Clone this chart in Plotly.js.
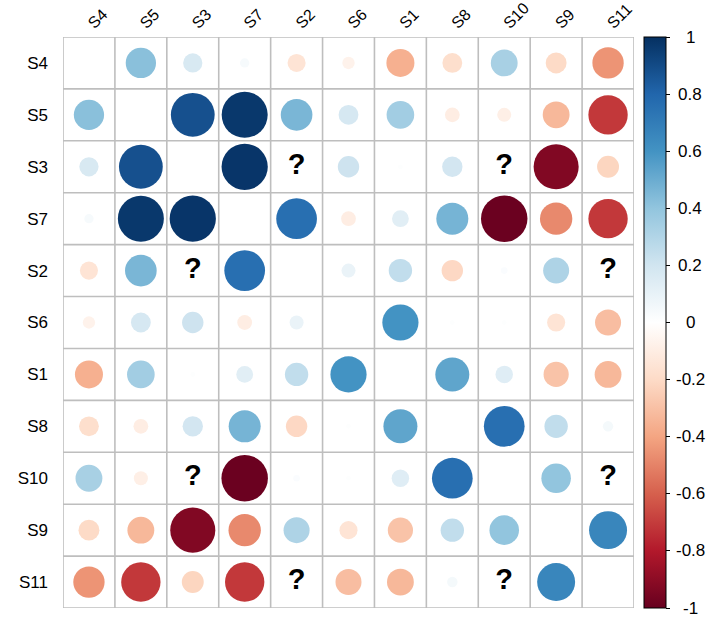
<!DOCTYPE html>
<html>
<head>
<meta charset="utf-8">
<script src="https://cdn.plot.ly/plotly-3.0.1.min.js"></script>
<style>html,body{margin:0;padding:0;background:#fff;}</style>
</head>
<body>
<div id="chart" style="width:711px;height:620px;"></div>
<script>
// Variable order (rows top-to-bottom, columns left-to-right)
const labels = ["S4", "S5", "S3", "S7", "S2", "S6", "S1", "S8", "S10", "S9", "S11"];
const NA = null; // missing correlation, drawn as "?"

// Correlation rows (diagonal = 1, not drawn)
const S4  = [1, 0.42, 0.17, 0.04, -0.15, -0.07, -0.36, -0.18, 0.33, -0.20, -0.45];
const S5  = [0.42, 1, 0.88, 0.97, 0.46, 0.18, 0.35, -0.10, -0.09, -0.33, -0.71];
const S3  = [0.17, 0.88, 1, 0.98, NA, 0.21, 0.01, 0.19, NA, -0.93, -0.22];
const S7  = [0.04, 0.97, 0.98, 1, 0.76, -0.10, 0.13, 0.47, -0.99, -0.48, -0.71];
const S2  = [-0.15, 0.46, NA, 0.76, 1, 0.09, 0.25, -0.21, 0.02, 0.31, NA];
const S6  = [-0.07, 0.18, 0.21, -0.10, 0.09, 1, 0.60, 0.01, 0.01, -0.15, -0.31];
const S1  = [-0.36, 0.35, 0.01, 0.13, 0.25, 0.60, 1, 0.53, 0.14, -0.29, -0.33];
const S8  = [-0.18, -0.10, 0.19, 0.47, -0.21, 0.01, 0.53, 1, 0.76, 0.25, 0.05];
const S10 = [0.33, -0.09, NA, -0.99, 0.02, 0.01, 0.14, 0.76, 1, 0.40, NA];
const S9  = [-0.20, -0.33, -0.93, -0.48, 0.31, -0.15, -0.29, 0.25, 0.40, 1, 0.66];
const S11 = [-0.45, -0.71, -0.22, -0.71, NA, -0.31, -0.33, 0.05, NA, 0.66, 1];

const colorbarTicks = [1, 0.8, 0.6, 0.4, 0.2, 0, -0.2, -0.4, -0.6, -0.8, -1];

const rows = [S4, S5, S3, S7, S2, S6, S1, S8, S10, S9, S11];

const W = 711, H = 620;
const margin = {l: 63, r: 77, t: 37, b: 12};
const n = labels.length;
const cellPx = (H - margin.t - margin.b) / n;

const rdbu = [
  [0.0, "#67001F"], [0.1, "#B2182B"], [0.2, "#D6604D"], [0.3, "#F4A582"],
  [0.4, "#FDDBC7"], [0.5, "#FFFFFF"], [0.6, "#D1E5F0"], [0.7, "#92C5DE"],
  [0.8, "#4393C3"], [0.9, "#2166AC"], [1.0, "#053061"]
];

const cx = [], cy = [], cv = [], cs = [];
const qx = [], qy = [];
rows.forEach((row, i) => {
  row.forEach((v, j) => {
    if (i === j) return;
    if (v === null) { qx.push(j); qy.push(i); return; }
    cx.push(j); cy.push(i); cv.push(v);
    cs.push(0.9 * Math.sqrt(Math.abs(v)) * cellPx);
  });
});

const circles = {
  type: "scatter", mode: "markers", x: cx, y: cy,
  hoverinfo: "skip",
  marker: {
    size: cs, sizemode: "diameter", color: cv, opacity: 1,
    colorscale: rdbu, cmin: -1, cmax: 1,
    line: {width: 0},
    showscale: true,
    colorbar: {
      x: (644 - margin.l) / (W - margin.l - margin.r), xanchor: "left",
      y: 0.5, yanchor: "middle", len: 1, lenmode: "fraction",
      thickness: 21.5, thicknessmode: "pixels",
      xpad: 0, ypad: 0,
      outlinecolor: "#000", outlinewidth: 1,
      ticks: "outside", ticklen: 4, tickcolor: "#000", tickwidth: 1,
      tickmode: "array", tickvals: colorbarTicks,
      showticklabels: false
    }
  },
  showlegend: false
};

const qmarks = {
  type: "scatter", mode: "text", x: qx, y: qy,
  text: qx.map(() => "?"),
  textposition: "middle center",
  textfont: {family: "Liberation Sans, Arial, sans-serif", size: 29, color: "#000", weight: "bold"},
  hoverinfo: "skip", showlegend: false
};

const shapes = [];
for (let k = 0; k <= n; k++) {
  shapes.push({type: "line", xref: "x", yref: "y", x0: k - 0.5, x1: k - 0.5, y0: -0.5, y1: n - 0.5,
    line: {color: "#BEBEBE", width: 1.6}, layer: "below"});
  shapes.push({type: "line", xref: "x", yref: "y", y0: k - 0.5, y1: k - 0.5, x0: -0.5, x1: n - 0.5,
    line: {color: "#BEBEBE", width: 1.6}, layer: "below"});
}

const plotW = W - margin.l - margin.r;
const annotations = colorbarTicks.map(v => ({
  xref: "paper", yref: "paper", x: (690 - margin.l) / plotW, y: (v + 1) / 2,
  xanchor: "center", yanchor: "middle", showarrow: false,
  text: String(v), font: {family: "Liberation Sans, Arial, sans-serif", size: 17, color: "#000"}
}));

const font = {family: "Liberation Sans, Arial, sans-serif", size: 17, color: "#000"};
const xfont = {family: "Liberation Sans, Arial, sans-serif", size: 16, color: "#000"};

const layout = {
  width: W, height: H, margin: margin,
  paper_bgcolor: "#fff", plot_bgcolor: "#fff",
  font: font,
  xaxis: {
    range: [-0.5, n - 0.5], side: "top", tickmode: "array",
    tickvals: labels.map((_, i) => i), ticktext: labels, tickangle: -45,
    showgrid: false, zeroline: false, showline: false, ticks: "",
    ticklabelstandoff: 1, tickfont: xfont, fixedrange: true
  },
  yaxis: {
    range: [n - 0.5, -0.5], tickmode: "array",
    tickvals: labels.map((_, i) => i), ticktext: labels,
    showgrid: false, zeroline: false, showline: false, ticks: "",
    ticklabelstandoff: 14, tickfont: font, fixedrange: true
  },
  shapes: shapes,
  annotations: annotations
};

Plotly.newPlot("chart", [circles, qmarks], layout, {displayModeBar: false, staticPlot: true});
</script>
</body>
</html>
